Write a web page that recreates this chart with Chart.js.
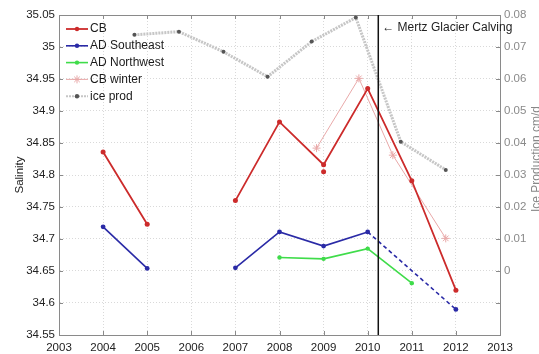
<!DOCTYPE html>
<html><head><meta charset="utf-8">
<script src="https://cdn.jsdelivr.net/npm/chart.js@4/dist/chart.umd.min.js"></script>
<style>html,body{margin:0;padding:0;background:#fff;overflow:hidden}#wrap{width:539px;height:354px}</style>
</head><body><div id="wrap"><canvas id="c" width="539" height="354"></canvas></div>
<script>
// ---- data ----
const cbYears = [2004, 2005, 2006, 2007, 2008, 2009, 2010, 2011, 2012];
const cbSalinity = [34.836, 34.723, null, 34.760, 34.883, 34.816, 34.935, 34.791, 34.620];
const cbExtraYears = [2009];
const cbExtraSalinity = [34.805];
const adSeYears = [2004, 2005, 2006, 2007, 2008, 2009, 2010, 2012];
const adSeSalinity = [34.719, 34.654, null, 34.655, 34.711, 34.689, 34.711, 34.590];
const adNwYears = [2008, 2009, 2010, 2011];
const adNwSalinity = [34.671, 34.669, 34.685, 34.631];
const cbWinterYears = [2008.84, 2009.80, 2010.57, 2011.77];
const cbWinterSalinity = [34.842, 34.951, 34.831, 34.701];
const iceYears = [2004.71, 2005.72, 2006.73, 2007.73, 2008.73, 2009.73, 2010.75, 2011.77];
const iceProd = [0.0738, 0.0748, 0.0685, 0.0607, 0.0717, 0.0792, 0.0404, 0.0316];
const calvingYear = 2010.24;
const calvingLabel = '\u2190 Mertz Glacier Calving';
const seriesNames = ['CB', 'AD Southeast', 'AD Northwest', 'CB winter', 'ice prod'];
const yLeftTitle = 'Salinity';
const yRightTitle = 'Ice Production cm/d';

const pts = (xs, ys) => xs.map((x, i) => ({x: x, y: ys[i]}));

const FONT = '"Liberation Sans", Arial, Helvetica, sans-serif';
const C_RED = '#cc2b2b', C_BLUE = '#2a2aa6', C_GREEN = '#3fdc4a', C_PINK = '#e9a9a9', C_ICE = '#c6c6c6', C_ICEPT = '#555555';

const fmt = v => String(Number(v.toFixed(3)));

const framePlugin = {
  id: 'frame',
  beforeDatasetsDraw(chart) {
    const {ctx, chartArea: a, scales} = chart;
    ctx.save();
    ctx.strokeStyle = '#8a8a8a';
    ctx.lineWidth = 1;
    ctx.beginPath();
    ctx.moveTo(a.left, a.top + 0.5); ctx.lineTo(a.right, a.top + 0.5);
    ctx.stroke();
    ctx.beginPath();
    scales.x.ticks.forEach(t => {
      const px = Math.round(scales.x.getPixelForValue(t.value)) + 0.5;
      ctx.moveTo(px, a.bottom); ctx.lineTo(px, a.bottom - 4);
      ctx.moveTo(px, a.top); ctx.lineTo(px, a.top + 4);
    });
    scales.y.ticks.forEach(t => {
      const py = Math.round(scales.y.getPixelForValue(t.value)) + 0.5;
      ctx.moveTo(a.left, py); ctx.lineTo(a.left + 4, py);
    });
    scales.y2.ticks.forEach(t => {
      const py = Math.round(scales.y2.getPixelForValue(t.value)) + 0.5;
      ctx.moveTo(a.right, py); ctx.lineTo(a.right - 4, py);
    });
    ctx.stroke();
    ctx.restore();
  },
  afterDraw(chart) {
    const {ctx, chartArea: a, scales} = chart;
    ctx.save();
    ctx.font = '12px ' + FONT;
    ctx.fillStyle = '#222';
    ctx.textBaseline = 'middle';
    ctx.textAlign = 'left';
    ctx.fillText(calvingLabel, scales.x.getPixelForValue(calvingYear) + 4, a.top + 13);
    ctx.save();
    ctx.translate(23, (a.top + a.bottom) / 2);
    ctx.rotate(-Math.PI / 2);
    ctx.textAlign = 'center';
    ctx.textBaseline = 'alphabetic';
    ctx.font = '11.5px ' + FONT;
    ctx.fillStyle = '#222';
    ctx.fillText(yLeftTitle, 0, 0);
    ctx.restore();
    ctx.save();
    ctx.translate(540, 159);
    ctx.rotate(-Math.PI / 2);
    ctx.textAlign = 'center';
    ctx.textBaseline = 'alphabetic';
    ctx.font = '12px ' + FONT;
    ctx.fillStyle = '#888';
    ctx.fillText(yRightTitle, 0, 0);
    ctx.restore();
    // legend
    const items = seriesNames.map(n => chart.data.datasets.find(d => d.inLegend && d.label === n));
    let y = 29;
    ctx.font = '12px ' + FONT;
    ctx.textBaseline = 'middle';
    items.forEach(d => {
      const x0 = 66, x1 = 88, xm = 77;
      ctx.save();
      ctx.strokeStyle = d.borderColor;
      ctx.lineWidth = Math.min(d.borderWidth, 2);
      if (d.legendDash) ctx.setLineDash(d.legendDash);
      ctx.beginPath(); ctx.moveTo(x0, y); ctx.lineTo(x1, y); ctx.stroke();
      ctx.restore();
      ctx.save();
      ctx.fillStyle = d.pointBackgroundColor;
      ctx.strokeStyle = d.pointBorderColor;
      if (d.pointStyle === 'star') {
        ctx.lineWidth = 1;
        ctx.beginPath();
        const r = 4;
        ctx.moveTo(xm - r, y); ctx.lineTo(xm + r, y);
        ctx.moveTo(xm, y - r); ctx.lineTo(xm, y + r);
        ctx.moveTo(xm - r * 0.7, y - r * 0.7); ctx.lineTo(xm + r * 0.7, y + r * 0.7);
        ctx.moveTo(xm - r * 0.7, y + r * 0.7); ctx.lineTo(xm + r * 0.7, y - r * 0.7);
        ctx.stroke();
      } else {
        ctx.beginPath(); ctx.arc(xm, y, 2.2, 0, Math.PI * 2); ctx.fill();
      }
      ctx.restore();
      ctx.fillStyle = '#1a1a1a';
      ctx.fillText(d.label, 90, y);
      y += 16.8;
    });
    ctx.restore();
  }
};

new Chart(document.getElementById('c'), {
  type: 'line',
  data: {
    datasets: [
      {label: seriesNames[4], data: pts(iceYears, iceProd), yAxisID: 'y2', inLegend: true,
        borderColor: C_ICE, borderWidth: 3, borderDash: [2, 1], legendDash: [2, 1],
        pointRadius: 2, pointBackgroundColor: C_ICEPT, pointBorderColor: C_ICEPT, pointBorderWidth: 0, order: 6},
      {label: 'calving', data: [{x: calvingYear, y: 34.55}, {x: calvingYear, y: 35.05}], yAxisID: 'y',
        borderColor: '#111', borderWidth: 1.5, pointRadius: 0, order: 0},
      {label: seriesNames[3], data: pts(cbWinterYears, cbWinterSalinity), yAxisID: 'y', inLegend: true,
        borderColor: C_PINK, borderWidth: 1, pointStyle: 'star', pointRadius: 4,
        pointBackgroundColor: C_PINK, pointBorderColor: C_PINK, pointBorderWidth: 1, order: 5},
      {label: seriesNames[2], data: pts(adNwYears, adNwSalinity), yAxisID: 'y', inLegend: true,
        borderColor: C_GREEN, borderWidth: 1.6, pointRadius: 2.2,
        pointBackgroundColor: C_GREEN, pointBorderColor: C_GREEN, pointBorderWidth: 0, order: 3},
      {label: seriesNames[1], data: pts(adSeYears, adSeSalinity), yAxisID: 'y', inLegend: true,
        borderColor: C_BLUE, borderWidth: 1.6, pointRadius: 2.4, spanGaps: false,
        segment: {borderDash: ctx => (ctx.p0.parsed.x === 2010 && ctx.p1.parsed.x === 2012) ? [4, 3] : undefined},
        pointBackgroundColor: C_BLUE, pointBorderColor: C_BLUE, pointBorderWidth: 0, order: 2},
      {label: seriesNames[0], data: pts(cbYears, cbSalinity), yAxisID: 'y', inLegend: true,
        borderColor: C_RED, borderWidth: 1.8, pointRadius: 2.5, spanGaps: false,
        pointBackgroundColor: C_RED, pointBorderColor: C_RED, pointBorderWidth: 0, order: 1},
      {label: 'cb extra', data: pts(cbExtraYears, cbExtraSalinity), yAxisID: 'y', showLine: false,
        pointRadius: 2.5, pointBackgroundColor: C_RED, pointBorderColor: C_RED, pointBorderWidth: 0, order: 1}
    ]
  },
  options: {
    responsive: false,
    animation: false,
    devicePixelRatio: 1,
    layout: {padding: {top: 15, left: 0, right: 0, bottom: 0}},
    plugins: {legend: {display: false}, tooltip: {enabled: false}, title: {display: false}},
    elements: {line: {tension: 0}},
    scales: {
      x: {
        type: 'linear', position: 'bottom', min: 2003, max: 2013,
        afterFit: s => { s.height = 19; },
        ticks: {stepSize: 1, callback: v => String(v), color: '#222', font: {family: FONT, size: 11.5}, padding: 6, maxRotation: 0, autoSkip: false},
        grid: {color: '#d9d9d9', drawTicks: false, lineWidth: 1},
        border: {color: '#8a8a8a', dash: [1, 2]}
      },
      y: {
        type: 'linear', position: 'left', min: 34.55, max: 35.05,
        afterFit: s => { s.width = 59; },
        ticks: {stepSize: 0.05, callback: v => fmt(v), color: '#222', font: {family: FONT, size: 11.5}, padding: 4},
        grid: {color: '#d9d9d9', drawTicks: false, lineWidth: 1},
        border: {color: '#8a8a8a', dash: [1, 2]}
      },
      y2: {
        type: 'linear', position: 'right', min: -0.02, max: 0.08,
        afterFit: s => { s.width = 39; },
        ticks: {stepSize: 0.01, callback: v => (v < -1e-9 ? '' : fmt(v)), color: '#8a8a8a', font: {family: FONT, size: 11.5}, padding: 4},
        grid: {drawOnChartArea: false, drawTicks: false},
        border: {color: '#8a8a8a'}
      }
    }
  },
  plugins: [framePlugin]
});
</script>
</body></html>
